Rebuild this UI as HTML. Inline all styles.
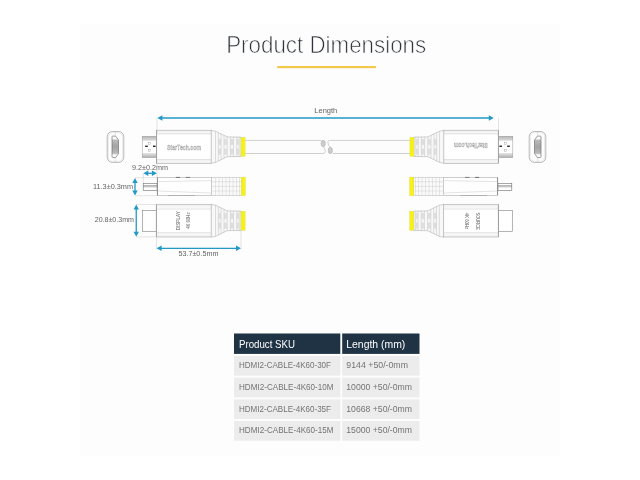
<!DOCTYPE html>
<html>
<head>
<meta charset="utf-8">
<title>Product Dimensions</title>
<style>
html,body{margin:0;padding:0;background:#fff;}
body{width:640px;height:480px;overflow:hidden;position:relative;font-family:"Liberation Sans",sans-serif;}
svg{position:absolute;left:0;top:0;display:block;will-change:transform;}
text{font-family:"Liberation Sans",sans-serif;}
</style>
</head>
<body>
<svg width="640" height="480" viewBox="0 0 640 480">
<defs>
  <linearGradient id="tipg" x1="0" y1="0" x2="0" y2="1">
    <stop offset="0" stop-color="#b4b4b4"/><stop offset="0.18" stop-color="#d8d8d8"/><stop offset="0.24" stop-color="#ffffff"/>
    <stop offset="0.76" stop-color="#ffffff"/><stop offset="0.82" stop-color="#dcdcdc"/><stop offset="1" stop-color="#b0b0b0"/>
  </linearGradient>
  <linearGradient id="bodyg" x1="0" y1="0" x2="0" y2="1">
    <stop offset="0" stop-color="#f0f0f0"/><stop offset="0.115" stop-color="#f9f9f9"/><stop offset="0.12" stop-color="#ffffff"/>
    <stop offset="0.88" stop-color="#ffffff"/><stop offset="0.885" stop-color="#f9f9f9"/><stop offset="1" stop-color="#f0f0f0"/>
  </linearGradient>
  <linearGradient id="portg" x1="0" y1="0" x2="0" y2="1">
    <stop offset="0" stop-color="#ffffff"/><stop offset="0.13" stop-color="#f4f4f4"/><stop offset="0.2" stop-color="#b9b9b9"/>
    <stop offset="0.5" stop-color="#a4a4a4"/><stop offset="0.8" stop-color="#b9b9b9"/><stop offset="0.87" stop-color="#f4f4f4"/><stop offset="1" stop-color="#ffffff"/>
  </linearGradient>
  <linearGradient id="sidetipg" x1="0" y1="0" x2="0" y2="1">
    <stop offset="0" stop-color="#fff"/><stop offset="0.3" stop-color="#fff"/><stop offset="0.42" stop-color="#bdbdbd"/><stop offset="0.58" stop-color="#e0e0e0"/><stop offset="0.62" stop-color="#fff"/><stop offset="1" stop-color="#fff"/>
  </linearGradient>
  <!-- strain relief for top/front views: body right end at x=211.25, centre y=0 -->
  <g id="relief">
    <path d="M211.25 -16.4 L215.5 -15.6 L227.2 -9.9 L241 -9.7 L241 9.7 L227.2 9.9 L215.5 15.6 L211.25 16.4 Z" fill="#f8f8f8" stroke="#a4a4a4" stroke-width="0.5" stroke-linejoin="round"/>
    <g stroke="#b8b8b8" stroke-width="0.45" fill="none">
      <line x1="215.5" y1="-15.6" x2="215.5" y2="15.6"/>
      <line x1="218.3" y1="-14.2" x2="218.3" y2="14.2"/>
      <line x1="221" y1="-12.9" x2="221" y2="12.9"/>
      <line x1="224" y1="-11.4" x2="224" y2="11.4"/>
      <line x1="227.2" y1="-9.9" x2="227.2" y2="9.9"/>
      <line x1="230.4" y1="-9.8" x2="230.4" y2="9.8"/>
      <line x1="233.6" y1="-9.8" x2="233.6" y2="9.8"/>
      <line x1="236.8" y1="-9.8" x2="236.8" y2="9.8"/>
      <line x1="239.2" y1="-9.7" x2="239.2" y2="9.7"/>
    </g>
    <g fill="#e2e2e2" stroke="#c4c4c4" stroke-width="0.3">
      <rect x="218.8" y="-7.6" width="1.7" height="5.6" rx="0.8"/><rect x="218.8" y="2" width="1.7" height="5.6" rx="0.8"/>
      <rect x="224.6" y="-7.6" width="2" height="5.6" rx="0.8"/><rect x="224.6" y="2" width="2" height="5.6" rx="0.8"/>
      <rect x="231" y="-7.6" width="2" height="5.6" rx="0.8"/><rect x="231" y="2" width="2" height="5.6" rx="0.8"/>
      <rect x="237" y="-7.6" width="1.6" height="5.6" rx="0.8"/><rect x="237" y="2" width="1.6" height="5.6" rx="0.8"/>
    </g>
    <rect x="241.1" y="-9.5" width="4" height="19" fill="#f7f214" stroke="#e0dc48" stroke-width="0.4"/>
  </g>
  <!-- top-view plug (left facing), centre y = 146.8 -->
  <g id="plugtop">
    <rect x="142.2" y="136.25" width="14.3" height="21.35" fill="url(#tipg)" stroke="#9a9a9a" stroke-width="0.5"/>
    <rect x="148.3" y="142.4" width="2.3" height="2.3" fill="#fff" stroke="#999" stroke-width="0.4"/>
    <rect x="148.3" y="149.2" width="2.3" height="2.3" fill="#fff" stroke="#999" stroke-width="0.4"/>
    <rect x="145.2" y="145.6" width="2.6" height="1.3" fill="#111"/>
    <rect x="153" y="145.6" width="2.6" height="1.3" fill="#111"/>
    <rect x="156.5" y="130.2" width="54.75" height="33.1" fill="url(#bodyg)" stroke="#a2a2a2" stroke-width="0.55"/>
    <line x1="156.5" y1="133.9" x2="211.25" y2="133.9" stroke="#bcbcbc" stroke-width="0.45"/>
    <line x1="156.5" y1="159.7" x2="211.25" y2="159.7" stroke="#bcbcbc" stroke-width="0.45"/>
    <line x1="156.6" y1="130.2" x2="156.6" y2="163.3" stroke="#8a8a8a" stroke-width="0.6"/>
    <use href="#relief" transform="translate(0,146.8)"/>
  </g>
  <g id="endview">
    <rect x="107.2" y="131.5" width="16.6" height="30.9" rx="5.2" fill="#fdfdfd" stroke="#8c8c8c" stroke-width="0.6"/>
    <rect x="108.3" y="132.6" width="14.4" height="28.7" rx="4.3" fill="none" stroke="#cccccc" stroke-width="0.4"/>
    <line x1="115.3" y1="131.4" x2="115.3" y2="162.4" stroke="#c0c0c0" stroke-width="0.4"/>
    <path d="M112.7 136.1 L115.6 136.1 L118.5 140 L118.5 153.6 L115.6 157.5 L112.7 157.5 Q112 157.5 112 156.8 L112 136.8 Q112 136.1 112.7 136.1 Z" fill="url(#portg)" stroke="#6e6e6e" stroke-width="0.65" stroke-linejoin="round"/>
  </g>
  <!-- side-view plug (left facing) -->
  <g id="plugside">
    <rect x="143.2" y="183.3" width="13.9" height="7.1" fill="url(#sidetipg)" stroke="#6e6e6e" stroke-width="0.6"/>
    <line x1="143.2" y1="185.5" x2="157" y2="185.5" stroke="#777" stroke-width="0.5"/>
    <rect x="157.3" y="177.3" width="54.1" height="18.1" fill="#fefefe" stroke="#9a9a9a" stroke-width="0.5"/>
    <line x1="157.3" y1="181.7" x2="211.4" y2="180.6" stroke="#bdbdbd" stroke-width="0.4"/>
    <line x1="157.3" y1="191" x2="211.4" y2="193" stroke="#bdbdbd" stroke-width="0.4"/>
    <line x1="157.4" y1="177.3" x2="157.4" y2="195.4" stroke="#666" stroke-width="0.6"/>
    <rect x="211.4" y="177.2" width="30" height="18.4" fill="#fafafa" stroke="#aaaaaa" stroke-width="0.45"/>
    <g stroke="#c6c6c6" stroke-width="0.4">
      <line x1="215.5" y1="177.2" x2="215.5" y2="195.6"/><line x1="219" y1="177.2" x2="219" y2="195.6"/>
      <line x1="222.5" y1="177.2" x2="222.5" y2="195.6"/><line x1="226" y1="177.2" x2="226" y2="195.6"/>
      <line x1="229.5" y1="177.2" x2="229.5" y2="195.6"/><line x1="233" y1="177.2" x2="233" y2="195.6"/>
      <line x1="236.5" y1="177.2" x2="236.5" y2="195.6"/><line x1="239.5" y1="177.2" x2="239.5" y2="195.6"/>
      <line x1="211.4" y1="181.8" x2="241.4" y2="181.8"/><line x1="211.4" y1="186.4" x2="241.4" y2="186.4"/><line x1="211.4" y1="191" x2="241.4" y2="191"/>
    </g>
    <rect x="241.3" y="177.1" width="4" height="18.6" fill="#f7f214" stroke="#e0dc48" stroke-width="0.4"/>
    <rect x="175.8" y="176.9" width="4.2" height="0.9" fill="#666"/>
    <rect x="185.6" y="176.9" width="4.4" height="0.9" fill="#777"/>
    <rect x="168" y="195.2" width="27" height="0.8" fill="#aaa"/>
  </g>
  <!-- front-view plug (left facing), centre y=220.8 -->
  <g id="plugfront">
    <rect x="142.5" y="210.5" width="13.8" height="20.8" fill="#ffffff" stroke="#8a8a8a" stroke-width="0.65"/>
    <rect x="156.3" y="204.6" width="54.95" height="32.4" fill="url(#bodyg)" stroke="#a2a2a2" stroke-width="0.55"/>
    <line x1="156.3" y1="209" x2="211.25" y2="209" stroke="#bcbcbc" stroke-width="0.45"/>
    <line x1="156.3" y1="232.7" x2="211.25" y2="232.7" stroke="#bcbcbc" stroke-width="0.45"/>
    <line x1="156.4" y1="204.6" x2="156.4" y2="237" stroke="#8a8a8a" stroke-width="0.6"/>
    <use href="#relief" transform="translate(0,220.8)"/>
  </g>
</defs>
<rect x="0" y="0" width="640" height="480" fill="#ffffff"/>
<rect x="80" y="24" width="480" height="432" fill="#fdfdfd"/>

<!-- TITLE -->
<g id="title">
<text x="226.2" y="52.9" font-size="24" fill="#30343a" stroke="#fdfdfd" stroke-width="0.7" textLength="200" lengthAdjust="spacingAndGlyphs">Product Dimensions</text>
<rect x="277.2" y="66" width="98.7" height="2.2" fill="#f2c94c"/>
</g>

<!-- LENGTH ARROW -->
<g id="lengtharrow">
<text x="314.3" y="112.5" font-size="8.0" fill="#636363" textLength="23" lengthAdjust="spacingAndGlyphs">Length</text>
<line x1="161.4" y1="118" x2="489.8" y2="118" stroke="#2299c6" stroke-width="1.5"/><path d="M157.4 118 L162.4 115.3 L162.4 120.7 Z" fill="#2299c6"/><path d="M493.8 118 L488.8 115.3 L488.8 120.7 Z" fill="#2299c6"/>
<line x1="157" y1="118" x2="157" y2="130" stroke="#c4c4c4" stroke-width="0.45"/>
<line x1="498.5" y1="118" x2="498.5" y2="130" stroke="#c4c4c4" stroke-width="0.45"/>
</g>

<g id="toprow">
<path d="M245 140.4 L321.4 140.4 L323.4 146.8 Q325.6 149.6 325.2 151.6 Q324.8 153.5 322.8 153.5 L245 153.5 Z" fill="#fcfcfc" stroke="none"/>
<path d="M410 140.4 L329.6 140.4 Q327.9 140.4 327.9 142.4 Q328 145.2 329.8 147.2 L332.8 153.5 L410 153.5 Z" fill="#fcfcfc" stroke="none"/>
<path d="M245 140.4 L321.4 140.4 M323.4 146.8 Q325.6 149.6 325.2 151.6 Q324.8 153.5 322.8 153.5 L245 153.5" fill="none" stroke="#bdbdbd" stroke-width="0.7"/>
<path d="M410 140.4 L329.6 140.4 Q327.9 140.4 327.9 142.4 Q328 145.2 329.8 147.2 M332.8 153.5 L410 153.5" fill="none" stroke="#bdbdbd" stroke-width="0.7"/>
<ellipse cx="323.2" cy="143.5" rx="2.1" ry="3.2" fill="#cdcdcd" stroke="#a2a2a2" stroke-width="0.5"/>
<ellipse cx="330.3" cy="150.4" rx="2.1" ry="3.2" fill="#cdcdcd" stroke="#a2a2a2" stroke-width="0.5"/>
<use href="#plugtop"/>
<use href="#plugtop" transform="translate(655,0) scale(-1,1)"/>
<text x="167" y="149.9" font-size="7.4" font-weight="bold" fill="#ededed" stroke="#9a9a9a" stroke-width="0.4" textLength="34" lengthAdjust="spacingAndGlyphs">StarTech.com</text>
<text transform="translate(487.8,143.4) rotate(180)" font-size="7.4" font-weight="bold" fill="#ededed" stroke="#9a9a9a" stroke-width="0.4" textLength="34" lengthAdjust="spacingAndGlyphs">StarTech.com</text>
<use href="#endview"/>
<use href="#endview" transform="translate(653,0) scale(-1,1)"/>
</g>

<g id="siderow">
<use href="#plugside"/>
<use href="#plugside" transform="translate(655,0) scale(-1,1)"/>
</g>

<g id="frontrow">
<use href="#plugfront"/>
<use href="#plugfront" transform="translate(654.8,0) scale(-1,1)"/>
<text transform="translate(180.1,230.3) rotate(-90)" font-size="5.4" fill="#606060" textLength="19" lengthAdjust="spacingAndGlyphs">DISPLAY</text>
<text transform="translate(189.8,228.8) rotate(-90)" font-size="5.4" fill="#606060" textLength="16.4" lengthAdjust="spacingAndGlyphs">4K 60Hz</text>
<text transform="translate(475.7,212.4) rotate(90)" font-size="5.4" fill="#606060" textLength="17.6" lengthAdjust="spacingAndGlyphs">SOURCE</text>
<text transform="translate(465.2,212.8) rotate(90)" font-size="5.4" fill="#606060" textLength="16.4" lengthAdjust="spacingAndGlyphs">4K 60Hz</text>
</g>

<g id="dims">
<text x="132" y="170" font-size="8.1" fill="#636363" textLength="36" lengthAdjust="spacingAndGlyphs">9.2&#177;0.2mm</text>
<line x1="147.3" y1="173.3" x2="152.9" y2="173.3" stroke="#2299c6" stroke-width="1.3"/><path d="M143.3 173.3 L148.3 170.60000000000002 L148.3 176.0 Z" fill="#2299c6"/><path d="M156.9 173.3 L151.9 170.60000000000002 L151.9 176.0 Z" fill="#2299c6"/>
<line x1="143.3" y1="173" x2="143.3" y2="183.3" stroke="#c4c4c4" stroke-width="0.45"/>
<line x1="157" y1="163.5" x2="157" y2="177.3" stroke="#c4c4c4" stroke-width="0.45"/>
<text x="93" y="188.8" font-size="8.1" fill="#636363" textLength="40" lengthAdjust="spacingAndGlyphs">11.3&#177;0.3mm</text>
<line x1="135" y1="181.9" x2="135" y2="191.5" stroke="#2299c6" stroke-width="1.3"/><path d="M135 177.9 L132.3 182.9 L137.7 182.9 Z" fill="#2299c6"/><path d="M135 195.5 L132.3 190.5 L137.7 190.5 Z" fill="#2299c6"/>
<line x1="135" y1="177.7" x2="157.3" y2="177.7" stroke="#c4c4c4" stroke-width="0.45"/>
<line x1="135" y1="195.7" x2="157.3" y2="195.7" stroke="#c4c4c4" stroke-width="0.45"/>
<text x="94.7" y="222" font-size="8.1" fill="#636363" textLength="39.3" lengthAdjust="spacingAndGlyphs">20.8&#177;0.3mm</text>
<line x1="136.25" y1="208.5" x2="136.25" y2="232.8" stroke="#2299c6" stroke-width="1.3"/><path d="M136.25 204.5 L133.55 209.5 L138.95 209.5 Z" fill="#2299c6"/><path d="M136.25 236.8 L133.55 231.8 L138.95 231.8 Z" fill="#2299c6"/>
<line x1="136.2" y1="204.5" x2="156.3" y2="204.5" stroke="#c4c4c4" stroke-width="0.45"/>
<line x1="136.2" y1="236.9" x2="156.3" y2="236.9" stroke="#c4c4c4" stroke-width="0.45"/>
<text x="178.4" y="256.2" font-size="8.1" fill="#636363" textLength="40" lengthAdjust="spacingAndGlyphs">53.7&#177;0.5mm</text>
<line x1="160.6" y1="248.3" x2="237.0" y2="248.3" stroke="#2299c6" stroke-width="1.3"/><path d="M156.6 248.3 L161.6 245.60000000000002 L161.6 251.0 Z" fill="#2299c6"/><path d="M241 248.3 L236.0 245.60000000000002 L236.0 251.0 Z" fill="#2299c6"/>
<line x1="156.5" y1="237" x2="156.5" y2="249.5" stroke="#c4c4c4" stroke-width="0.45"/>
<line x1="241" y1="230.5" x2="241" y2="249.5" stroke="#c4c4c4" stroke-width="0.45"/>
</g>
<g id="table">
<rect x="234" y="333.5" width="106.3" height="20.4" fill="#1f3345"/>
<rect x="342.2" y="333.5" width="77.3" height="20.4" fill="#1f3345"/>
<text x="239" y="347.9" font-size="11.5" fill="#ffffff" textLength="56" lengthAdjust="spacingAndGlyphs">Product SKU</text>
<text x="346.3" y="347.9" font-size="11.5" fill="#ffffff" textLength="59" lengthAdjust="spacingAndGlyphs">Length (mm)</text>
<rect x="234" y="356.0" width="106.3" height="19.6" fill="#ececec"/>
<rect x="342.2" y="356.0" width="77.3" height="19.6" fill="#ececec"/>
<text x="239" y="368.2" font-size="9.6" fill="#747474" textLength="92" lengthAdjust="spacingAndGlyphs">HDMI2-CABLE-4K60-30F</text>
<text x="346.3" y="368.2" font-size="9.6" fill="#747474" textLength="61.7" lengthAdjust="spacingAndGlyphs">9144 +50/-0mm</text>
<rect x="234" y="377.7" width="106.3" height="19.6" fill="#ececec"/>
<rect x="342.2" y="377.7" width="77.3" height="19.6" fill="#ececec"/>
<text x="239" y="389.9" font-size="9.6" fill="#747474" textLength="94.5" lengthAdjust="spacingAndGlyphs">HDMI2-CABLE-4K60-10M</text>
<text x="346.3" y="389.9" font-size="9.6" fill="#747474" textLength="65.7" lengthAdjust="spacingAndGlyphs">10000 +50/-0mm</text>
<rect x="234" y="399.4" width="106.3" height="19.6" fill="#ececec"/>
<rect x="342.2" y="399.4" width="77.3" height="19.6" fill="#ececec"/>
<text x="239" y="411.6" font-size="9.6" fill="#747474" textLength="92" lengthAdjust="spacingAndGlyphs">HDMI2-CABLE-4K60-35F</text>
<text x="346.3" y="411.6" font-size="9.6" fill="#747474" textLength="65.7" lengthAdjust="spacingAndGlyphs">10668 +50/-0mm</text>
<rect x="234" y="421.1" width="106.3" height="19.6" fill="#ececec"/>
<rect x="342.2" y="421.1" width="77.3" height="19.6" fill="#ececec"/>
<text x="239" y="433.3" font-size="9.6" fill="#747474" textLength="94.5" lengthAdjust="spacingAndGlyphs">HDMI2-CABLE-4K60-15M</text>
<text x="346.3" y="433.3" font-size="9.6" fill="#747474" textLength="65.7" lengthAdjust="spacingAndGlyphs">15000 +50/-0mm</text>
</g>
</svg>
</body>
</html>
